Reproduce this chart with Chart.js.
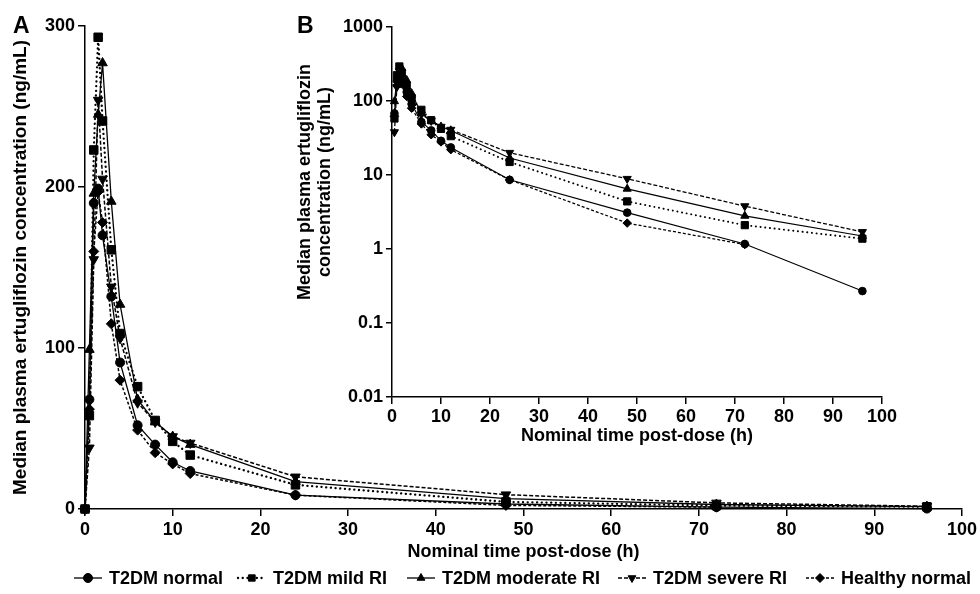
<!DOCTYPE html>
<html>
<head>
<meta charset="utf-8">
<script src="https://cdn.jsdelivr.net/npm/chart.js@4.4.1/dist/chart.umd.min.js"></script>
<style>
  html, body { margin: 0; padding: 0; background: #fff; }
  #wrap { position: relative; width: 980px; height: 594px; }
  #mainChart { position: absolute; left: 0; top: 0; }
  #insetChart { position: absolute; left: 290px; top: 0; }
</style>
</head>
<body>
<div id="wrap">
  <canvas id="mainChart" width="980" height="594"></canvas>
  <canvas id="insetChart" width="620" height="460"></canvas>
</div>
<script>
// nominal sampling times (h)
const hours = [0, 0.5, 1, 1.5, 2, 3, 4, 6, 8, 10, 12, 24, 48, 72, 96];

// median plasma concentrations (ng/mL)
const t2dmNormal   = [0, 68, 190, 199, 170, 132, 91, 52, 40, 29, 23.6, 8.6, 3.1, 1.17, 0.27];
const t2dmMild     = [0, 58, 223, 293, 241, 161, 109, 76, 55, 42, 33.5, 15, 4.4, 2.1, 1.38];
const t2dmModerate = [0, 99, 196, 245, 277, 191, 127, 68, 54, 45, 40, 17, 6.5, 2.8, 1.5];
const t2dmSevere   = [0, 38, 155, 254, 205, 138, 106, 66, 54, 45, 41, 20, 8.9, 3.8, 1.7];
const healthyNormal = [0, 62, 160, 197, 178, 115, 80, 49, 35, 28, 22, 8.6, 2.24, 1.15, null];

const seriesNames = ['T2DM normal', 'T2DM mild RI', 'T2DM moderate RI', 'T2DM severe RI', 'Healthy normal'];
const seriesValues = [t2dmNormal, t2dmMild, t2dmModerate, t2dmSevere, healthyNormal];

const timeTicks = [0, 10, 20, 30, 40, 50, 60, 70, 80, 90, 100];
const linearTicks = [0, 100, 200, 300];
const logTicks = [0.01, 0.1, 1, 10, 100, 1000];

const FONT = "'Liberation Sans', Arial, Helvetica, sans-serif";
Chart.defaults.font.family = FONT;
Chart.defaults.font.weight = 'bold';
Chart.defaults.color = '#000';

// line + marker look of each group
const looks = [
  { marker: 'circle', rot: 0, dash: [], cap: 'butt', width: 1.3, r: 4.5 },
  { marker: 'rect', rot: 0, dash: [0.1, 4.6], cap: 'round', width: 2.3, r: 6 },
  { marker: 'triangle', rot: 0, dash: [], cap: 'butt', width: 1.3, r: 5.5 },
  { marker: 'triangle', rot: 180, dash: [4, 2], cap: 'butt', width: 1.5, r: 5.5 },
  { marker: 'rectRot', rot: 0, dash: [3, 2], cap: 'butt', width: 1.5, r: 5 }
];

const buildSets = (forLog, scale) => seriesValues.map((vals, i) => {
  const look = looks[i];
  return {
    label: seriesNames[i],
    data: hours.map((h, j) => ({ x: h, y: (forLog && !(vals[j] > 0)) ? null : vals[j] })),
    borderColor: '#000',
    backgroundColor: '#000',
    borderWidth: look.width * scale,
    borderDash: look.dash,
    borderCapStyle: look.cap,
    pointStyle: look.marker,
    pointRotation: look.rot,
    pointRadius: look.r * scale,
    pointBorderWidth: 1,
    pointBorderColor: '#000',
    pointBackgroundColor: '#000',
    spanGaps: true,
    tension: 0,
    clip: false
  };
});

const panelLetter = {
  id: 'panelLetter',
  afterDraw(chart, args, opts) {
    const ctx = chart.ctx;
    ctx.save();
    ctx.font = 'bold 23px ' + FONT;
    ctx.fillStyle = '#000';
    ctx.fillText(opts.text, opts.x, opts.y);
    ctx.restore();
  }
};

// two-line rotated axis title for panel B (sits above the axis middle in the figure)
const sideTitle = {
  id: 'sideTitle',
  afterDraw(chart, args, opts) {
    if (!opts.lines) return;
    const ctx = chart.ctx;
    ctx.save();
    ctx.font = 'bold 18px ' + FONT;
    ctx.fillStyle = '#000';
    ctx.textAlign = 'center';
    ctx.textBaseline = 'middle';
    ctx.translate(opts.x, opts.y);
    ctx.rotate(-Math.PI / 2);
    opts.lines.forEach((line, i) => ctx.fillText(line, 0, i * 20));
    ctx.restore();
  }
};

// legend with line + marker samples, like the printed figure
const legendX = [74, 238, 407, 618, 806];
const lineLegend = {
  id: 'lineLegend',
  afterDraw(chart) {
    const ctx = chart.ctx;
    const y = 578;
    ctx.save();
    ctx.font = 'bold 18px ' + FONT;
    ctx.textBaseline = 'middle';
    ctx.fillStyle = '#000';
    ctx.strokeStyle = '#000';
    chart.data.datasets.forEach((ds, i) => {
      const x = legendX[i];
      ctx.lineWidth = ds.borderWidth;
      ctx.setLineDash(ds.borderDash);
      ctx.lineCap = ds.borderCapStyle;
      ctx.beginPath();
      ctx.moveTo(x, y);
      ctx.lineTo(x + 28, y);
      ctx.stroke();
      ctx.setLineDash([]);
      ctx.lineWidth = 1;
      Chart.helpers.drawPoint(ctx, { pointStyle: ds.pointStyle, rotation: ds.pointRotation, radius: 4.5, borderWidth: 1 }, x + 14, y);
      ctx.fillText(ds.label, x + 35, y + 1);
    });
    ctx.restore();
  }
};

const axisLook = {
  grid: { drawOnChartArea: false, tickLength: 7, color: '#000', lineWidth: 1.5 },
  border: { color: '#000', width: 1.5 }
};

new Chart(document.getElementById('mainChart'), {
  type: 'line',
  data: { datasets: buildSets(false, 1) },
  plugins: [panelLetter, lineLegend],
  options: {
    responsive: false,
    animation: false,
    layout: { padding: { top: 26, right: 15, bottom: 30, left: 0 } },
    plugins: {
      legend: { display: false },
      tooltip: { enabled: false },
      panelLetter: { text: 'A', x: 13, y: 33 }
    },
    scales: {
      x: {
        type: 'linear', min: 0, max: 100,
        afterBuildTicks: s => { s.ticks = timeTicks.map(v => ({ value: v })); },
        afterFit: s => { s.height = 55; },
        ...axisLook,
        ticks: { color: '#000', font: { size: 18, weight: 'bold' }, padding: 3, maxRotation: 0 },
        title: { display: true, text: 'Nominal time post-dose (h)', color: '#000', font: { size: 18, weight: 'bold' }, padding: { top: 0, bottom: 1 } }
      },
      y: {
        type: 'linear', min: 0, max: 300,
        afterBuildTicks: s => { s.ticks = linearTicks.map(v => ({ value: v })); },
        afterFit: s => { s.width = 85; },
        ...axisLook,
        ticks: { color: '#000', font: { size: 18, weight: 'bold' }, padding: 3 },
        title: { display: true, text: 'Median plasma ertugliflozin concentration (ng/mL)', color: '#000', font: { size: 19, weight: 'bold' }, padding: { top: 9, bottom: 0 } }
      }
    }
  }
});

new Chart(document.getElementById('insetChart'), {
  type: 'line',
  data: { datasets: buildSets(true, 0.85) },
  plugins: [panelLetter, sideTitle],
  options: {
    responsive: false,
    animation: false,
    layout: { padding: { top: 27, right: 28, bottom: 0, left: 0 } },
    plugins: {
      legend: { display: false },
      tooltip: { enabled: false },
      panelLetter: { text: 'B', x: 7, y: 33 },
      sideTitle: { lines: ['Median plasma ertugliflozin', 'concentration (ng/mL)'], x: 15, y: 182 }
    },
    scales: {
      x: {
        type: 'linear', min: 0, max: 100,
        afterBuildTicks: s => { s.ticks = timeTicks.map(v => ({ value: v })); },
        afterFit: s => { s.height = 63; },
        ...axisLook,
        ticks: { color: '#000', font: { size: 18, weight: 'bold' }, padding: 2, maxRotation: 0 },
        title: { display: true, text: 'Nominal time post-dose (h)', color: '#000', font: { size: 18, weight: 'bold' }, padding: { top: 0, bottom: 13 } }
      },
      y: {
        type: 'logarithmic', min: 0.01, max: 1000,
        afterBuildTicks: s => { s.ticks = logTicks.map(v => ({ value: v })); },
        afterFit: s => { s.width = 102; },
        ...axisLook,
        grid: { drawOnChartArea: false, tickLength: 6, color: '#000', lineWidth: 1.5 },
        ticks: { color: '#000', font: { size: 18, weight: 'bold' }, padding: 3, callback: v => String(v) },
        title: { display: false }
      }
    }
  }
});
</script>
</body>
</html>
